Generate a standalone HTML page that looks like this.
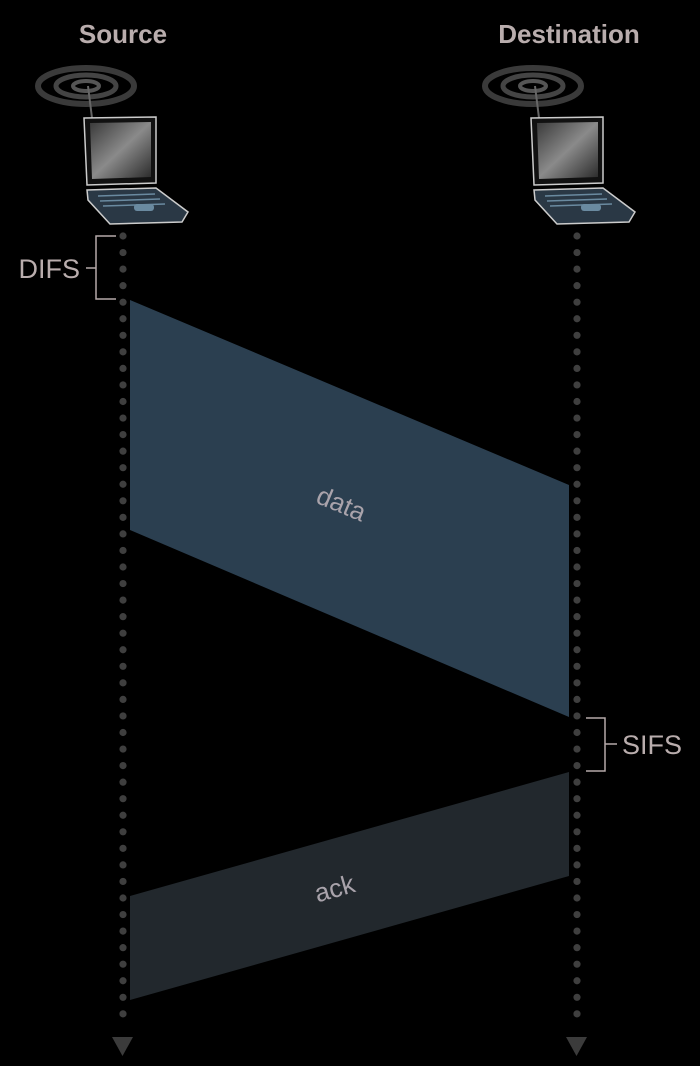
<!DOCTYPE html>
<html><head><meta charset="utf-8"><style>
html,body{margin:0;padding:0;background:#000;}
svg{display:block;}
text{font-family:"Liberation Sans",sans-serif;}
</style></head><body>
<svg id="chart" width="700" height="1066" viewBox="0 0 700 1066" xmlns="http://www.w3.org/2000/svg">
<defs>
<linearGradient id="scr" x1="0" y1="0" x2="1" y2="1">
<stop offset="0" stop-color="#3a3a3a"/><stop offset="0.5" stop-color="#8a8a8a"/><stop offset="1" stop-color="#2a2a2a"/>
</linearGradient>
<g id="laptop">
<ellipse cx="48" cy="86" rx="48" ry="18" fill="none" stroke="#3a3a3a" stroke-width="6"/>
<ellipse cx="48" cy="86" rx="30" ry="11" fill="none" stroke="#444" stroke-width="5"/>
<ellipse cx="48" cy="86" rx="13" ry="5" fill="none" stroke="#555" stroke-width="4"/>
<line x1="50" y1="86" x2="54" y2="118" stroke="#666" stroke-width="2"/>
<path d="M46,118 L118,117 L118,183 L49,185 Z" fill="#111" stroke="#ccc" stroke-width="1.5"/>
<path d="M52,123 L113,122 L113,177 L54,179 Z" fill="url(#scr)"/>
<path d="M49,190 L118,188 L150,212 L144,222 L72,224 L50,200 Z" fill="#2a3845" stroke="#ccc" stroke-width="1.5"/>
<line x1="60" y1="196" x2="117" y2="194" stroke="#6a8aa0" stroke-width="1.5"/>
<line x1="62" y1="201" x2="122" y2="199" stroke="#6a8aa0" stroke-width="1.5"/>
<line x1="65" y1="206" x2="127" y2="204" stroke="#6a8aa0" stroke-width="1.5"/>
<rect x="96" y="204" width="20" height="7" rx="3" fill="#6a8aa0"/>
</g>
</defs>
<text x="123" y="43" text-anchor="middle" font-size="26" font-weight="bold" fill="#b9adad">Source</text>
<text x="569" y="43" text-anchor="middle" font-size="26" font-weight="bold" fill="#b9adad">Destination</text>
<use href="#laptop" transform="translate(38,0)"/>
<use href="#laptop" transform="translate(485,0)"/>

<polygon points="130,300 569,485 569,717 130,530" fill="#2b3f50"/>
<text x="338" y="512" text-anchor="middle" font-size="26" fill="#a9a3ab" transform="rotate(22.8 338 512)">data</text>
<polygon points="130,896 569,772 569,876 130,1000" fill="#22282d"/>
<text x="337" y="897" text-anchor="middle" font-size="26" fill="#a9a3ab" transform="rotate(-15.8 337 897)">ack</text>

<line x1="123" y1="236" x2="123" y2="1030" stroke="#3f3f3f" stroke-width="7.2" stroke-linecap="round" stroke-dasharray="0 16.55"/>
<line x1="577" y1="236" x2="577" y2="1030" stroke="#3f3f3f" stroke-width="7.2" stroke-linecap="round" stroke-dasharray="0 16.55"/>
<polygon points="112,1037 133,1037 122.5,1056" fill="#3b3b3b"/>
<polygon points="566,1037 587,1037 576.5,1056" fill="#3b3b3b"/>

<g>
<path d="M116,236 L96,236 L96,299 L116,299 M96,268 L86,268" fill="none" stroke="#b5a9a9" stroke-width="1.5"/>
<text x="80" y="278" text-anchor="end" font-size="27" fill="#b9adad">DIFS</text>
</g>
<g>
<path d="M586,718 L605,718 L605,771 L586,771 M605,744 L617,744" fill="none" stroke="#b5a9a9" stroke-width="1.5"/>
<text x="622" y="754" font-size="27" fill="#b9adad">SIFS</text>
</g>
</svg>
</body></html>
